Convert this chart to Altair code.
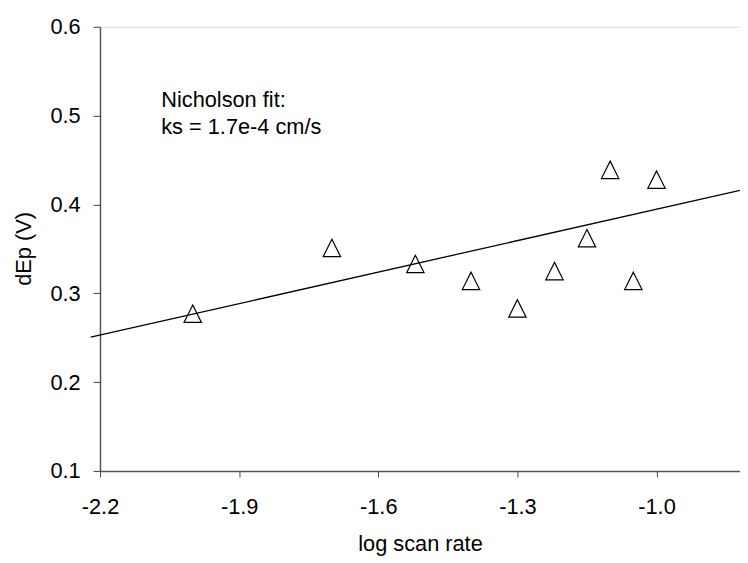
import altair as alt
import pandas as pd

# data
log_scan_rate = [-2.0, -1.7, -1.52, -1.4, -1.3, -1.22, -1.15, -1.1, -1.05, -1.0]
dEp = [0.277, 0.351, 0.333, 0.314, 0.283, 0.325, 0.362, 0.439, 0.314, 0.428]
fit_x = [-2.22, -0.82]
fit_y = [0.2506, 0.416]
x_ticks = [-2.2, -1.9, -1.6, -1.3, -1.0]
y_ticks = [0.1, 0.2, 0.3, 0.4, 0.5, 0.6]
annotation = ["Nicholson fit:", "ks = 1.7e-4 cm/s"]

pts = pd.DataFrame({"x": log_scan_rate, "y": dEp})
fit = pd.DataFrame({"x": fit_x, "y": fit_y})

FONT = "Liberation Sans"
FS = 22

xscale = alt.Scale(domain=[-2.2, -0.82], nice=False, zero=False)
yscale = alt.Scale(domain=[0.1, 0.6], nice=False, zero=False)

xaxis = alt.Axis(
    values=x_ticks, grid=False, title="log scan rate",
    labelExpr="(datum.value < 0 ? '-' : '') + format(abs(datum.value), '.1f')",
    labelFont=FONT, labelFontSize=FS, labelColor="black", labelPadding=20,
    tickSize=6, tickColor="#444", domainColor="#555", domainWidth=1.5,
    titleFont=FONT, titleFontSize=FS, titleFontWeight="normal", titleColor="black",
    titleBaseline="alphabetic", titleY=80, labelFlush=False,
)
yaxis = alt.Axis(
    values=y_ticks, grid=False, title="dEp (V)", format=".1f",
    labelFont=FONT, labelFontSize=FS, labelColor="black", labelPadding=13,
    tickSize=7, tickColor="#444", domainColor="#555", domainWidth=1.5,
    titleFont=FONT, titleFontSize=FS, titleFontWeight="normal", titleColor="black",
    titleBaseline="alphabetic", titleX=-70, titleY=224, titleAngle=-90,
    labelFlush=False,
)

line = alt.Chart(fit).mark_line(color="black", strokeWidth=1.3).encode(
    x=alt.X("x:Q", scale=xscale, axis=xaxis),
    y=alt.Y("y:Q", scale=yscale, axis=yaxis),
)

points = alt.Chart(pts).mark_point(
    shape="M0,-1L1,1L-1,1Z", size=310, filled=False, color="black",
    strokeWidth=1.2, opacity=1,
).encode(
    x=alt.X("x:Q", scale=xscale),
    y=alt.Y("y:Q", scale=yscale),
)

text = alt.Chart(pd.DataFrame({"t": [annotation]})).mark_text(
    align="left", baseline="alphabetic", font=FONT, fontSize=FS,
    color="black", lineHeight=28,
).encode(
    x=alt.datum(-2.068, scale=xscale),
    y=alt.datum(0.510, scale=yscale),
    text="t",
)

chart = alt.layer(line, points, text).properties(
    width=647, height=449,
    autosize=alt.AutoSizeParams(type="none"),
    padding={"left": 93, "top": 16, "right": 0, "bottom": 88},
).configure_view(stroke=None).configure(background="white")

chart.save("out.html", embed_options={"renderer": "svg", "actions": False})
